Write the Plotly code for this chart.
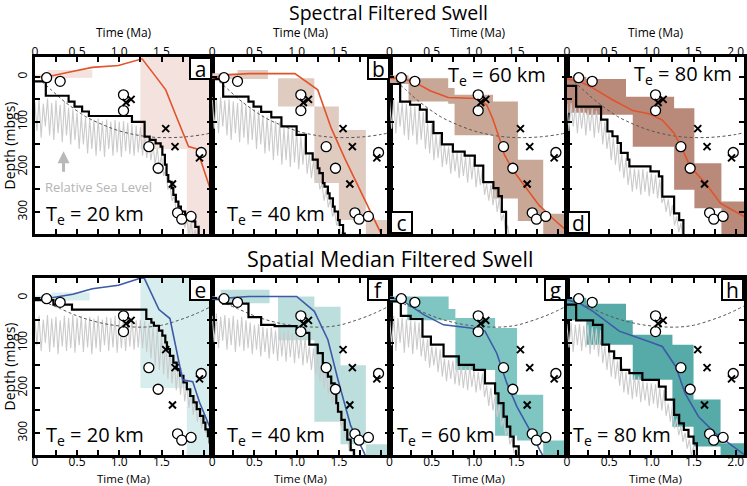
import plotly.graph_objects as go

# ---------------- shared data (observations) ----------------
circ_t = [0.14, 0.30, 1.05, 1.05, 1.35, 1.46, 1.69, 1.74, 1.85, 1.97]
circ_d = [2, 10, 40, 75, 155, 203, 302, 316, 310, 168]
cross_t = [1.08, 1.14, 1.55, 1.66, 1.63, 1.95]
cross_d = [57, 50, 115, 155, 238, 180]

dash_top_t = [0.08, 0.2, 0.3, 0.4, 0.6, 0.8, 1.0, 1.2, 1.4, 1.6, 1.8, 2.0, 2.1]
dash_top_d = [10, 30, 47, 62, 88, 106, 120, 129, 134, 135, 133, 128, 124]
dash_bot_t = [0.1, 0.3, 0.5, 0.7, 0.9, 1.1, 1.3, 1.5, 1.7, 1.9, 2.1]
dash_bot_d = [8, 24, 40, 52, 60, 64, 65, 61, 50, 36, 18]

grey_dt = 0.025  # sampling step of the relative sea level curves (Ma)

# ---------------- panel a (spectral, Te=20) ----------------
a_black_t = [0, 0.13, 0.40, 0.47, 0.56, 0.64, 1.15, 1.30, 1.36, 1.43, 1.49, 1.51, 1.54, 1.56, 1.58, 1.62, 1.64, 1.67, 1.70, 1.73, 1.78, 1.86, 1.90, 1.94]
a_black_d = [10, 42, 55, 66, 77, 87, 100, 133, 140, 148, 155, 173, 195, 218, 233, 247, 262, 277, 288, 299, 314, 321, 333, 360]
a_grey = [55, 120, 50, 135, 60, 110, 48, 130, 58, 140, 52, 125, 62, 145, 55, 130, 68, 150, 72, 140,
          80, 160, 85, 150, 90, 170, 92, 160, 95, 175, 92, 165, 98, 178, 95, 160, 100, 175, 96, 168,
          100, 178, 98, 165, 102, 172, 105, 175, 108, 168, 112, 175, 130, 180, 142, 185, 150, 195, 158, 200,
          175, 220, 205, 250, 240, 275, 265, 300, 290, 320, 305, 335, 318, 350, 325, 360, 340, 365]
a_line_t = [0, 0.15, 0.4, 0.68, 0.99, 1.27, 1.43, 1.55, 1.66, 1.82, 1.92, 2.15]
a_line_d = [0, 0, -10, -21, -25, -40, -1, 29, 81, 155, 160, 290]
a_band_e = [0, 0.15, 0.68, 1.25, 1.8, 2.1]
a_band_top = [-5, -15, -44, -60, -60]
a_band_bot = [3, 2, -44, 160, 360]

# ---------------- panel b (spectral, Te=40) ----------------
b_black_t = [0, 0.13, 0.43, 0.49, 0.58, 0.70, 0.82, 1.0, 1.11, 1.19, 1.25, 1.27, 1.31, 1.33, 1.37, 1.39, 1.43, 1.45, 1.49, 1.51, 1.55, 1.57]
b_black_d = [5, 44, 55, 66, 78, 90, 110, 129, 170, 184, 203, 214, 236, 244, 259, 270, 288, 299, 318, 329, 348, 360]
b_grey = [45, 115, 48, 125, 45, 110, 52, 130, 50, 140, 55, 125, 58, 145, 55, 135, 62, 150, 66, 140,
          72, 160, 75, 150, 85, 170, 88, 165, 95, 185, 98, 175, 100, 195, 112, 185, 115, 200, 112, 190,
          120, 205, 132, 195, 135, 215, 172, 225, 185, 235, 205, 250, 238, 275, 250, 290, 272, 310, 300, 330,
          320, 350, 340, 365]
b_line_t = [0, 0.15, 0.43, 0.98, 1.25, 1.41, 1.57, 1.84, 2.0, 2.1]
b_line_d = [3, -4, -7, -7, 29, 114, 181, 288, 348, 400]
b_band_e = [0, 0.3, 0.66, 0.78, 1.21, 1.5, 1.82, 2.1]
b_band_top = [-8, -15, -44, 3, 66, 118, 318]
b_band_bot = [5, 5, -44, 66, 236, 318, 360]

# ---------------- panel c (spectral, Te=60) ----------------
c_black_t = [0, 0.126, 0.244, 0.36, 0.44, 0.52, 0.62, 0.75, 0.89, 1.01, 1.11, 1.23, 1.29, 1.33, 1.38]
c_black_d = [16, 55, 62, 73, 100, 125, 150, 166, 175, 197, 234, 247, 265, 300, 360]
c_grey = [52, 115, 50, 125, 55, 110, 58, 130, 60, 140, 65, 130, 66, 150, 70, 140, 78, 160, 102, 170,
          105, 185, 128, 180, 130, 200, 152, 195, 155, 215, 160, 210, 168, 225, 170, 220, 178, 235, 176, 228,
          182, 245, 200, 240, 205, 262, 238, 275, 240, 285, 252, 300, 270, 320, 305, 345, 330, 365]
c_line_t = [0, 0.165, 0.32, 0.48, 0.695, 1.03, 1.15, 1.22, 1.30, 1.36, 1.46, 1.62, 1.77, 1.93, 2.1]
c_line_d = [3, 4, 14, 31, 46, 48, 62, 92, 136, 173, 207, 247, 285, 314, 342]
c_band_e = [0, 0.225, 0.695, 0.77, 1.225, 1.52, 1.82, 2.1]
c_band_top = [-3, 3, 25, 40, 55, 184, 304]
c_band_bot = [16, 55, 60, 130, 270, 320, 350]

# ---------------- panel d (spectral, Te=80) ----------------
d_black_t = [0, 0.11, 0.405, 0.48, 0.54, 0.60, 0.64, 0.72, 0.74, 0.99, 1.09, 1.13, 1.27, 1.33, 1.38]
d_black_d = [20, 66, 95, 121, 132, 147, 169, 184, 199, 210, 221, 266, 303, 318, 360]
d_grey = [60, 120, 58, 110, 66, 125, 68, 115, 70, 130, 72, 120, 70, 135, 75, 125, 85, 150, 100, 160,
          125, 185, 135, 195, 150, 210, 172, 225, 180, 240, 202, 255, 204, 250, 206, 262, 205, 255, 210, 265,
          215, 260, 218, 270, 228, 280, 268, 300, 272, 310, 285, 330, 310, 345, 325, 360]
d_line_t = [0, 0.15, 0.31, 0.54, 0.78, 0.97, 1.13, 1.27, 1.37, 1.46, 1.64, 1.82, 2.1]
d_line_d = [5, 10, 25, 51, 75, 82, 96, 125, 162, 199, 236, 281, 310]
d_band_e = [0, 0.23, 0.70, 0.78, 1.27, 1.51, 1.83, 2.1]
d_band_top = [0, 5, 44, 44, 70, 192, 277]
d_band_bot = [80, 84, 84, 155, 251, 292, 360]

# ---------------- panel e (spatial median, Te=20) ----------------
e_black_t = [0, 0.22, 0.44, 1.32, 1.38, 1.41, 1.47, 1.51, 1.545, 1.565, 1.60, 1.64, 1.68, 1.72, 1.76, 1.80, 1.84, 1.878, 1.917, 1.957, 1.996, 2.02, 2.05, 2.07, 2.1]
e_black_d = [5, 15, 26, 47, 55, 62, 73, 84, 99, 114, 129, 144, 158, 173, 188, 203, 218, 232, 247, 262, 277, 292, 307, 321, 340]
e_grey = [45, 105, 40, 118, 48, 100, 38, 120, 46, 110, 42, 125, 50, 108, 40, 118, 45, 112, 38, 122,
          44, 105, 40, 120, 48, 110, 42, 125, 46, 112, 40, 120, 48, 105, 42, 118, 45, 110, 40, 122,
          48, 112, 42, 118, 46, 108, 44, 115, 50, 110, 48, 112, 52, 120, 58, 135, 62, 150, 68, 160,
          80, 170, 95, 180, 118, 190, 135, 205, 150, 215, 165, 230, 190, 245, 205, 260, 225, 275, 240, 290,
          265, 300, 295, 330, 320]
e_line_t = [0, 0.2, 0.45, 0.68, 0.99, 1.29, 1.47, 1.60, 1.75, 1.87, 1.95, 2.1]
e_line_d = [0, 0, -8, -20, -28, -46, 26, 46, 182, 186, 232, 300]
e_band_e = [0, 0.2, 0.65, 1.25, 1.8, 2.1]
e_band_top = [-5, -12, -44, -60, -60]
e_band_bot = [3, 6, -44, 200, 360]

# ---------------- panel f (spatial median, Te=40) ----------------
f_black_t = [0, 0.13, 0.43, 0.58, 0.74, 1.0, 1.15, 1.25, 1.31, 1.35, 1.37, 1.41, 1.45, 1.47, 1.49, 1.53, 1.57, 1.60, 1.64, 1.68]
f_black_d = [3, 13, 43, 60, 63, 78, 104, 123, 145, 156, 175, 190, 212, 234, 253, 271, 293, 315, 338, 360]
f_grey = [40, 100, 35, 112, 42, 95, 38, 115, 45, 105, 40, 120, 48, 108, 42, 118, 50, 112, 55, 125,
          60, 115, 58, 130, 65, 120, 68, 135, 66, 125, 72, 140, 70, 130, 75, 142, 72, 132, 78, 145,
          82, 135, 85, 150, 88, 145, 108, 160, 112, 170, 128, 185, 135, 200, 160, 215, 182, 235, 205, 255,
          245, 285, 275, 310, 300, 340, 330, 360]
f_line_t = [0, 0.15, 0.43, 1.0, 1.21, 1.37, 1.49, 1.64, 1.80, 1.9]
f_line_d = [3, 1, -3, -3, 30, 93, 182, 284, 344, 400]
f_band_e = [0, 0.1, 0.68, 0.78, 1.21, 1.52, 1.82, 2.1]
f_band_top = [-3, -18, -44, -3, 20, 150, 325]
f_band_bot = [5, 12, -44, 94, 275, 325, 360]

# ---------------- panel g (spatial median, Te=60) ----------------
g_black_t = [0, 0.134, 0.25, 0.39, 0.49, 0.64, 0.82, 1.0, 1.13, 1.25, 1.29, 1.35, 1.39, 1.43, 1.47, 1.53]
g_black_d = [8, 40, 47, 86, 104, 130, 149, 160, 190, 212, 234, 264, 286, 308, 330, 360]
g_grey = [42, 105, 40, 118, 45, 100, 44, 122, 48, 110, 50, 125, 52, 115, 55, 130, 90, 140, 92, 155,
          108, 150, 110, 165, 115, 175, 135, 185, 138, 180, 140, 192, 145, 195, 152, 200, 155, 205, 152, 198,
          162, 210, 165, 205, 168, 220, 195, 240, 200, 250, 218, 265, 238, 285, 268, 305, 290, 325, 312, 345,
          335, 365]
g_line_t = [0, 0.17, 0.41, 0.64, 0.96, 1.13, 1.27, 1.39, 1.51, 1.66, 1.78, 1.9]
g_line_d = [-2, 8, 38, 60, 67, 74, 123, 190, 242, 293, 338, 380]
g_band_e = [0, 0.21, 0.70, 0.78, 1.25, 1.51, 1.82, 2.1]
g_band_top = [-3, -3, 25, 45, 67, 215, 317]
g_band_bot = [10, 50, 50, 160, 306, 317, 360]

# ---------------- panel h (spatial median, Te=80) ----------------
h_black_t = [0, 0.11, 0.31, 0.42, 0.50, 0.56, 0.64, 0.74, 0.894, 1.09, 1.17, 1.27, 1.33, 1.385, 1.44, 1.50, 1.54]
h_black_d = [15, 50, 60, 104, 119, 134, 160, 167, 182, 197, 226, 260, 279, 293, 308, 323, 360]
h_grey = [58, 110, 55, 120, 60, 105, 58, 118, 62, 110, 60, 125, 65, 115, 68, 130, 72, 145, 108, 160,
          110, 175, 125, 180, 140, 195, 150, 210, 165, 215, 170, 225, 172, 220, 175, 232, 185, 228, 188, 240,
          190, 235, 192, 245, 200, 250, 205, 262, 235, 275, 240, 290, 268, 305, 285, 320, 300, 335, 315, 350,
          330, 365]
h_line_t = [0, 0.15, 0.31, 0.62, 0.97, 1.13, 1.29, 1.40, 1.56, 1.76, 2.1]
h_line_d = [4, 12, 30, 74, 97, 108, 153, 212, 264, 301, 348]
h_band_e = [0, 0.23, 0.70, 0.78, 1.25, 1.50, 1.82, 2.1]
h_band_top = [0, 13, 50, 82, 104, 226, 323]
h_band_bot = [50, 104, 104, 182, 286, 330, 360]

# ---------------- labels / ticks ----------------
te_labels = ["T<sub>e</sub> = 20 km", "T<sub>e</sub> = 40 km", "T<sub>e</sub> = 60 km", "T<sub>e</sub> = 80 km"] * 2
letters = ["a", "b", "c", "d", "e", "f", "g", "h"]
x_major = [0, 0.5, 1.0, 1.5]
x_major_text = ["0", "0.5", "1.0", "1.5"]
x_major_last = [0, 0.5, 1.0, 1.5, 2.0]
x_major_last_text = ["0", "0.5", "1.0", "1.5", "2.0"]
x_minor = [0.25, 0.75, 1.25, 1.75, 2.0]
x_minor_last = [0.25, 0.75, 1.25, 1.75]
y_major = [0, 100, 200, 300]
y_major_text = ["0", "100", "200", "300"]
y_minor = [50, 150, 250]

RED = "#e2532b"
BLUE = "#3d5aa6"
band_colors = ["#f3e2de", "#e0cbc1", "#c9a797", "#b98a7a",
               "#d8eded", "#bcdfde", "#7fc6c3", "#56aaa8"]

panels = [
    (a_black_t, a_black_d, a_grey, a_line_t, a_line_d, a_band_e, a_band_top, a_band_bot),
    (b_black_t, b_black_d, b_grey, b_line_t, b_line_d, b_band_e, b_band_top, b_band_bot),
    (c_black_t, c_black_d, c_grey, c_line_t, c_line_d, c_band_e, c_band_top, c_band_bot),
    (d_black_t, d_black_d, d_grey, d_line_t, d_line_d, d_band_e, d_band_top, d_band_bot),
    (e_black_t, e_black_d, e_grey, e_line_t, e_line_d, e_band_e, e_band_top, e_band_bot),
    (f_black_t, f_black_d, f_grey, f_line_t, f_line_d, f_band_e, f_band_top, f_band_bot),
    (g_black_t, g_black_d, g_grey, g_line_t, g_line_d, g_band_e, g_band_top, g_band_bot),
    (h_black_t, h_black_d, h_grey, h_line_t, h_line_d, h_band_e, h_band_top, h_band_bot),
]

FONT = "Open Sans"
W, H = 747, 486
PX_L, PX_W = 32, 178.3
ROW_PX = [(57, 234), (278, 455)]
TIME_TITLE_PX = [33, 478.5]
TICK_STANDOFF = [-7, -6]

fig = go.Figure()
annotations = []
layout_axes = {}
tick_style = dict(ticks="inside", ticklen=5, tickwidth=1.5, tickcolor="black")

for k, (bt, bd, grey, lt, ld, be, btop, bbot) in enumerate(panels):
    row, col = divmod(k, 4)
    n = k + 1
    xr = "x" if n == 1 else f"x{n}"
    yr = "y" if n == 1 else f"y{n}"
    xkey = "xaxis" if n == 1 else f"xaxis{n}"
    ykey = "yaxis" if n == 1 else f"yaxis{n}"
    line_col = RED if row == 0 else BLUE

    # stepped uncertainty band as one polygon
    bx, by = [], []
    for i in range(len(btop)):
        bx += [be[i], be[i + 1]]
        by += [btop[i], btop[i]]
    for i in reversed(range(len(bbot))):
        bx += [be[i + 1], be[i]]
        by += [bbot[i], bbot[i]]
    fig.add_trace(go.Scatter(x=bx, y=by, xaxis=xr, yaxis=yr, mode="lines", fill="toself",
                             fillcolor=band_colors[k], line=dict(width=0), hoverinfo="skip"))
    grey_t = [i * grey_dt for i in range(len(grey))]
    fig.add_trace(go.Scatter(x=grey_t, y=grey, xaxis=xr, yaxis=yr, mode="lines",
                             line=dict(color="#cbcbcb", width=1.1)))
    dt, dd = (dash_top_t, dash_top_d) if row == 0 else (dash_bot_t, dash_bot_d)
    fig.add_trace(go.Scatter(x=dt, y=dd, xaxis=xr, yaxis=yr, mode="lines",
                             line=dict(color="#555555", width=1, dash="3px,2.5px", shape="spline")))
    fig.add_trace(go.Scatter(x=bt, y=bd, xaxis=xr, yaxis=yr, mode="lines",
                             line=dict(color="black", width=2.2, shape="hv")))
    fig.add_trace(go.Scatter(x=lt, y=ld, xaxis=xr, yaxis=yr, mode="lines",
                             line=dict(color=line_col, width=1.6)))
    fig.add_trace(go.Scatter(x=circ_t, y=circ_d, xaxis=xr, yaxis=yr, mode="markers",
                             marker=dict(symbol="circle", size=10, color="white",
                                         line=dict(color="black", width=1.3))))
    fig.add_trace(go.Scatter(x=cross_t, y=cross_d, xaxis=xr, yaxis=yr, mode="markers",
                             marker=dict(symbol="x-thin", size=7, color="black",
                                         line=dict(color="black", width=2))))

    L = PX_L + PX_W * col
    top_px, bot_px = ROW_PX[row]
    xdom = [L / W, (L + PX_W) / W]
    ydom = [1 - bot_px / H, 1 - top_px / H]
    last = col == 3
    layout_axes[xkey] = dict(
        domain=xdom, range=[0, 2.1], anchor=yr, side="top" if row == 0 else "bottom",
        tickvals=x_major_last if last else x_major,
        ticktext=x_major_last_text if last else x_major_text,
        minor=dict(tickvals=x_minor_last if last else x_minor, **tick_style),
        **tick_style, ticklabelstandoff=TICK_STANDOFF[row],
        showline=True, linecolor="black", linewidth=2.5, mirror="allticks",
        showgrid=False, zeroline=False, tickfont=dict(size=12, color="black"),
    )
    layout_axes[ykey] = dict(
        domain=ydom, range=[349, -44], anchor=xr,
        tickvals=y_major, ticktext=y_major_text, showticklabels=(col == 0), tickangle=-90,
        minor=dict(tickvals=y_minor, **tick_style),
        **tick_style,
        showline=True, linecolor="black", linewidth=2.5, mirror="allticks",
        showgrid=False, zeroline=False, tickfont=dict(size=12, color="black"),
    )
    if col == 0:
        layout_axes[ykey]["title"] = dict(text="Depth (mbgs)", font=dict(size=14, color="black"), standoff=2)

    # axis title "Time (Ma)" centred over / under each panel
    annotations.append(dict(text="Time (Ma)", xref=f"{xr} domain", yref="paper", x=0.5,
                            y=1 - TIME_TITLE_PX[row] / H, xanchor="center", yanchor="middle",
                            showarrow=False, font=dict(size=12 if row == 0 else 11.5, color="black")))

    # panel letter box
    if k in (2, 3):
        annotations.append(dict(text=letters[k], xref=f"{xr} domain", yref=f"{yr} domain", x=0, y=0,
                                xanchor="left", yanchor="bottom", showarrow=False, font=dict(size=21, color="black"),
                                bgcolor="white", bordercolor="black", borderwidth=2, borderpad=0, width=19, height=19))
    else:
        annotations.append(dict(text=letters[k], xref=f"{xr} domain", yref=f"{yr} domain", x=1, y=1,
                                xanchor="right", yanchor="top", showarrow=False, font=dict(size=21, color="black"),
                                bgcolor="white", bordercolor="black", borderwidth=2, borderpad=0, width=19, height=19))
    # Te label
    te_pos = {0: (0.05, 0.11), 1: (0.07, 0.11), 2: (0.32, 0.895), 3: (0.37, 0.90),
              4: (0.05, 0.11), 5: (0.07, 0.11), 6: (0.03, 0.11), 7: (0.025, 0.11)}[k]
    annotations.append(dict(text=te_labels[k], xref=f"{xr} domain", yref=f"{yr} domain",
                            x=te_pos[0], y=te_pos[1], xanchor="left", yanchor="middle", showarrow=False,
                            font=dict(size=20, color="black")))

annotations.append(dict(text="Spectral Filtered Swell", xref="paper", yref="paper", x=388 / W, y=1 - 12.5 / H,
                        xanchor="center", yanchor="middle", showarrow=False, font=dict(size=19.5, color="black")))
annotations.append(dict(text="Spatial Median Filtered Swell", xref="paper", yref="paper", x=389 / W, y=1 - 258 / H,
                        xanchor="center", yanchor="middle", showarrow=False, font=dict(size=21.5, color="black")))
annotations.append(dict(text="Relative Sea Level", xref="x domain", yref="y domain", x=0.045, y=0.265,
                        xanchor="left", yanchor="middle", showarrow=False, font=dict(size=13, color="#b4b4b4")))
annotations.append(dict(text="", xref="x", yref="y", x=0.34, y=165, ax=0, ay=22, showarrow=True,
                        arrowhead=2, arrowsize=0.8, arrowwidth=3, arrowcolor="#b8b8b8"))

fig.update_layout(
    width=W, height=H, margin=dict(l=0, r=0, t=0, b=0),
    paper_bgcolor="white", plot_bgcolor="white", showlegend=False,
    font=dict(family=FONT, color="black"), annotations=annotations, **layout_axes,
)
fig.write_html("out.html")
